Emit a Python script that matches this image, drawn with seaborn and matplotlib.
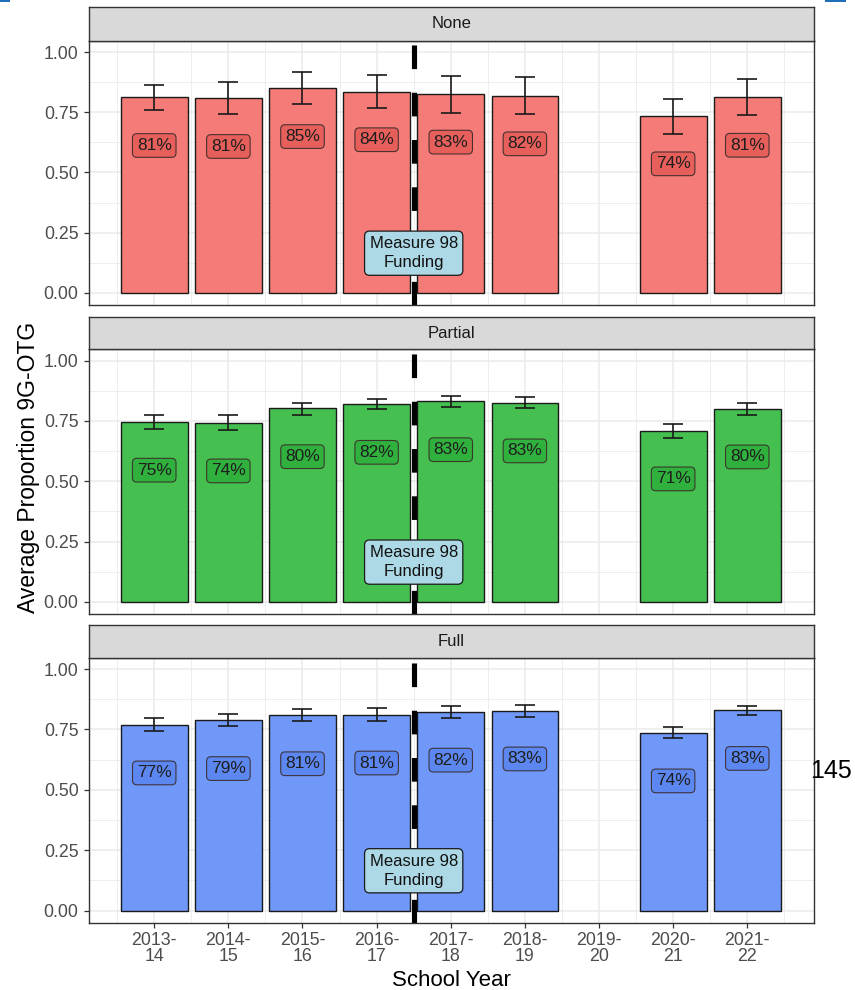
import numpy as np
import pandas as pd
import matplotlib
matplotlib.use("Agg")
import matplotlib.pyplot as plt
import seaborn as sns
from matplotlib.patches import Rectangle
from matplotlib.ticker import FixedLocator

# ---- data -------------------------------------------------------------
years = ["2013-\n14", "2014-\n15", "2015-\n16", "2016-\n17", "2017-\n18",
         "2018-\n19", "2019-\n20", "2020-\n21", "2021-\n22"]
groups = ["None", "Partial", "Full"]

none_vals = [0.812, 0.808, 0.849, 0.836, 0.826, 0.819, np.nan, 0.736, 0.813]
none_lo = [0.760, 0.743, 0.784, 0.766, 0.748, 0.741, np.nan, 0.661, 0.739]
none_hi = [0.863, 0.876, 0.916, 0.905, 0.900, 0.896, np.nan, 0.806, 0.888]

partial_vals = [0.746, 0.743, 0.802, 0.820, 0.831, 0.826, np.nan, 0.710, 0.801]
partial_lo = [0.718, 0.714, 0.775, 0.800, 0.808, 0.804, np.nan, 0.681, 0.775]
partial_hi = [0.775, 0.776, 0.826, 0.843, 0.855, 0.848, np.nan, 0.739, 0.825]

full_vals = [0.770, 0.788, 0.808, 0.811, 0.823, 0.828, np.nan, 0.737, 0.830]
full_lo = [0.745, 0.764, 0.785, 0.786, 0.799, 0.801, np.nan, 0.714, 0.808]
full_hi = [0.796, 0.813, 0.833, 0.837, 0.848, 0.852, np.nan, 0.761, 0.848]

bar_colors = ["#F47B77", "#45BF50", "#6F98F8"]
label_fills = ["#E65C58", "#2EAF3B", "#5A86F0"]

y_ticks = [0.0, 0.25, 0.5, 0.75, 1.0]
y_tick_labels = ["0.00", "0.25", "0.50", "0.75", "1.00"]
funding_text = "Measure 98\nFunding"
funding_year_pos = 3.5
funding_y = 0.165
label_offset = 0.2

series = {
    "None": (none_vals, none_lo, none_hi),
    "Partial": (partial_vals, partial_lo, partial_hi),
    "Full": (full_vals, full_lo, full_hi),
}

# ---- style ------------------------------------------------------------
sns.set_style("white")
plt.rcParams["font.family"] = ["Liberation Sans", "DejaVu Sans"]

W, H = 855, 990
fig = plt.figure(figsize=(W / 100, H / 100), dpi=100)
fig.patch.set_facecolor("white")

px_left, px_right = 89, 814
panel_px = [(40.7, 305.0), (349.3, 614.0), (657.7, 922.7)]
strip_px = [(7.3, 40.7), (316.7, 349.3), (625.0, 657.7)]

GRID = "#EBEBEB"
BORDER = "#333333"
TICK_SIZE = 12.8


def fig_rect(x0, x1, ytop, ybot):
    return [x0 / W, 1 - ybot / H, (x1 - x0) / W, (ybot - ytop) / H]


for gi, grp in enumerate(groups):
    vals, lo, hi = series[grp]
    df = pd.DataFrame({"year": years, "value": vals, "lo": lo, "hi": hi})
    df_bars = df.dropna()

    ax = fig.add_axes(fig_rect(px_left, px_right, *panel_px[gi]))
    ax.set_facecolor("white")

    sns.barplot(data=df_bars, x="year", y="value", order=years,
                color=bar_colors[gi], saturation=1, width=0.9,
                edgecolor="#1A1A1A", linewidth=1.0, errorbar=None,
                ax=ax, zorder=2)

    pos = [years.index(y) for y in df_bars["year"]]
    v = df_bars["value"].to_numpy()
    ax.errorbar(pos, v,
                yerr=[v - df_bars["lo"].to_numpy(), df_bars["hi"].to_numpy() - v],
                fmt="none", ecolor="#1A1A1A", elinewidth=1.2, capsize=7.5,
                capthick=1.2, zorder=3)

    # funding change marker
    ax.axvline(funding_year_pos, color="black", lw=3.7,
               linestyle=(0, (4.6, 4.6)), zorder=4)
    ax.text(funding_year_pos, funding_y, funding_text, ha="center",
            va="center", fontsize=12, color="#111111", linespacing=1.35,
            zorder=6,
            bbox=dict(boxstyle="round,pad=0.3,rounding_size=0.3",
                      fc="#ADD8E6", ec="#1A1A1A", lw=0.9))

    # percentage labels
    for p, val in zip(pos, v):
        ax.text(p, val - label_offset, f"{round(val * 100)}%",
                ha="center", va="center", fontsize=12.5, color="#1E1E1E",
                zorder=5,
                bbox=dict(boxstyle="round,pad=0.25,rounding_size=0.25",
                          fc=label_fills[gi], ec="#3A2A2A", lw=0.8,
                          alpha=0.9))

    ax.set_xlim(-0.88, 8.9)
    ax.set_ylim(-0.05, 1.047)

    ax.set_yticks(y_ticks)
    ax.set_yticklabels(y_tick_labels)
    ax.yaxis.set_minor_locator(FixedLocator([0.125, 0.375, 0.625, 0.875]))
    ax.xaxis.set_minor_locator(FixedLocator(np.arange(-0.5, 9.0, 1.0)))
    ax.set_axisbelow(True)
    ax.grid(which="major", color=GRID, lw=1.1, zorder=0)
    ax.grid(which="minor", color=GRID, lw=0.6, zorder=0)

    ax.tick_params(axis="y", which="major", length=3.5, width=0.9,
                   color=BORDER, labelsize=TICK_SIZE, labelcolor="#4D4D4D",
                   pad=4.0, left=True)
    ax.tick_params(which="minor", length=0)
    if gi == len(groups) - 1:
        ax.tick_params(axis="x", which="major", length=3.5, width=0.9,
                       color=BORDER, labelsize=TICK_SIZE, labelcolor="#4D4D4D",
                       pad=3.0, bottom=True)
        for t in ax.get_xticklabels():
            t.set_linespacing(0.95)
            t.set_multialignment("center")
    else:
        ax.tick_params(axis="x", which="major", length=0, labelbottom=False)
    ax.set_xlabel("")
    ax.set_ylabel("")
    for s in ax.spines.values():
        s.set_visible(True)
        s.set_color(BORDER)
        s.set_linewidth(1.0)
        s.set_zorder(7)

    # facet strip
    sax = fig.add_axes(fig_rect(px_left, px_right, *strip_px[gi]))
    sax.set_facecolor("#D9D9D9")
    sax.set_xticks([])
    sax.set_yticks([])
    for s in sax.spines.values():
        s.set_color(BORDER)
        s.set_linewidth(1.0)
    sax.text(0.5, 0.5, grp, transform=sax.transAxes, ha="center",
             va="center", fontsize=12, color="#1A1A1A")

fig.text(29 / W, 1 - 467 / H, "Average Proportion 9G-OTG", rotation=90,
         ha="center", va="center", fontsize=16.5, color="black")
fig.text((px_left + px_right) / 2 / W, 1 - 980 / H, "School Year",
         ha="center", va="center", fontsize=16, color="black")
fig.text(831 / W, 1 - 771 / H, "145", ha="center", va="center",
         fontsize=18, color="black")

# slide edge accents
fig.add_artist(Rectangle((0, 1 - 2 / H), 10 / W, 2 / H, transform=fig.transFigure,
                         fc="#1F6FB8", ec="none"))
fig.add_artist(Rectangle((825 / W, 1 - 2 / H), 21 / W, 2 / H,
                         transform=fig.transFigure, fc="#1F6FB8", ec="none"))

fig.savefig("out.png", dpi=100, facecolor="white")
